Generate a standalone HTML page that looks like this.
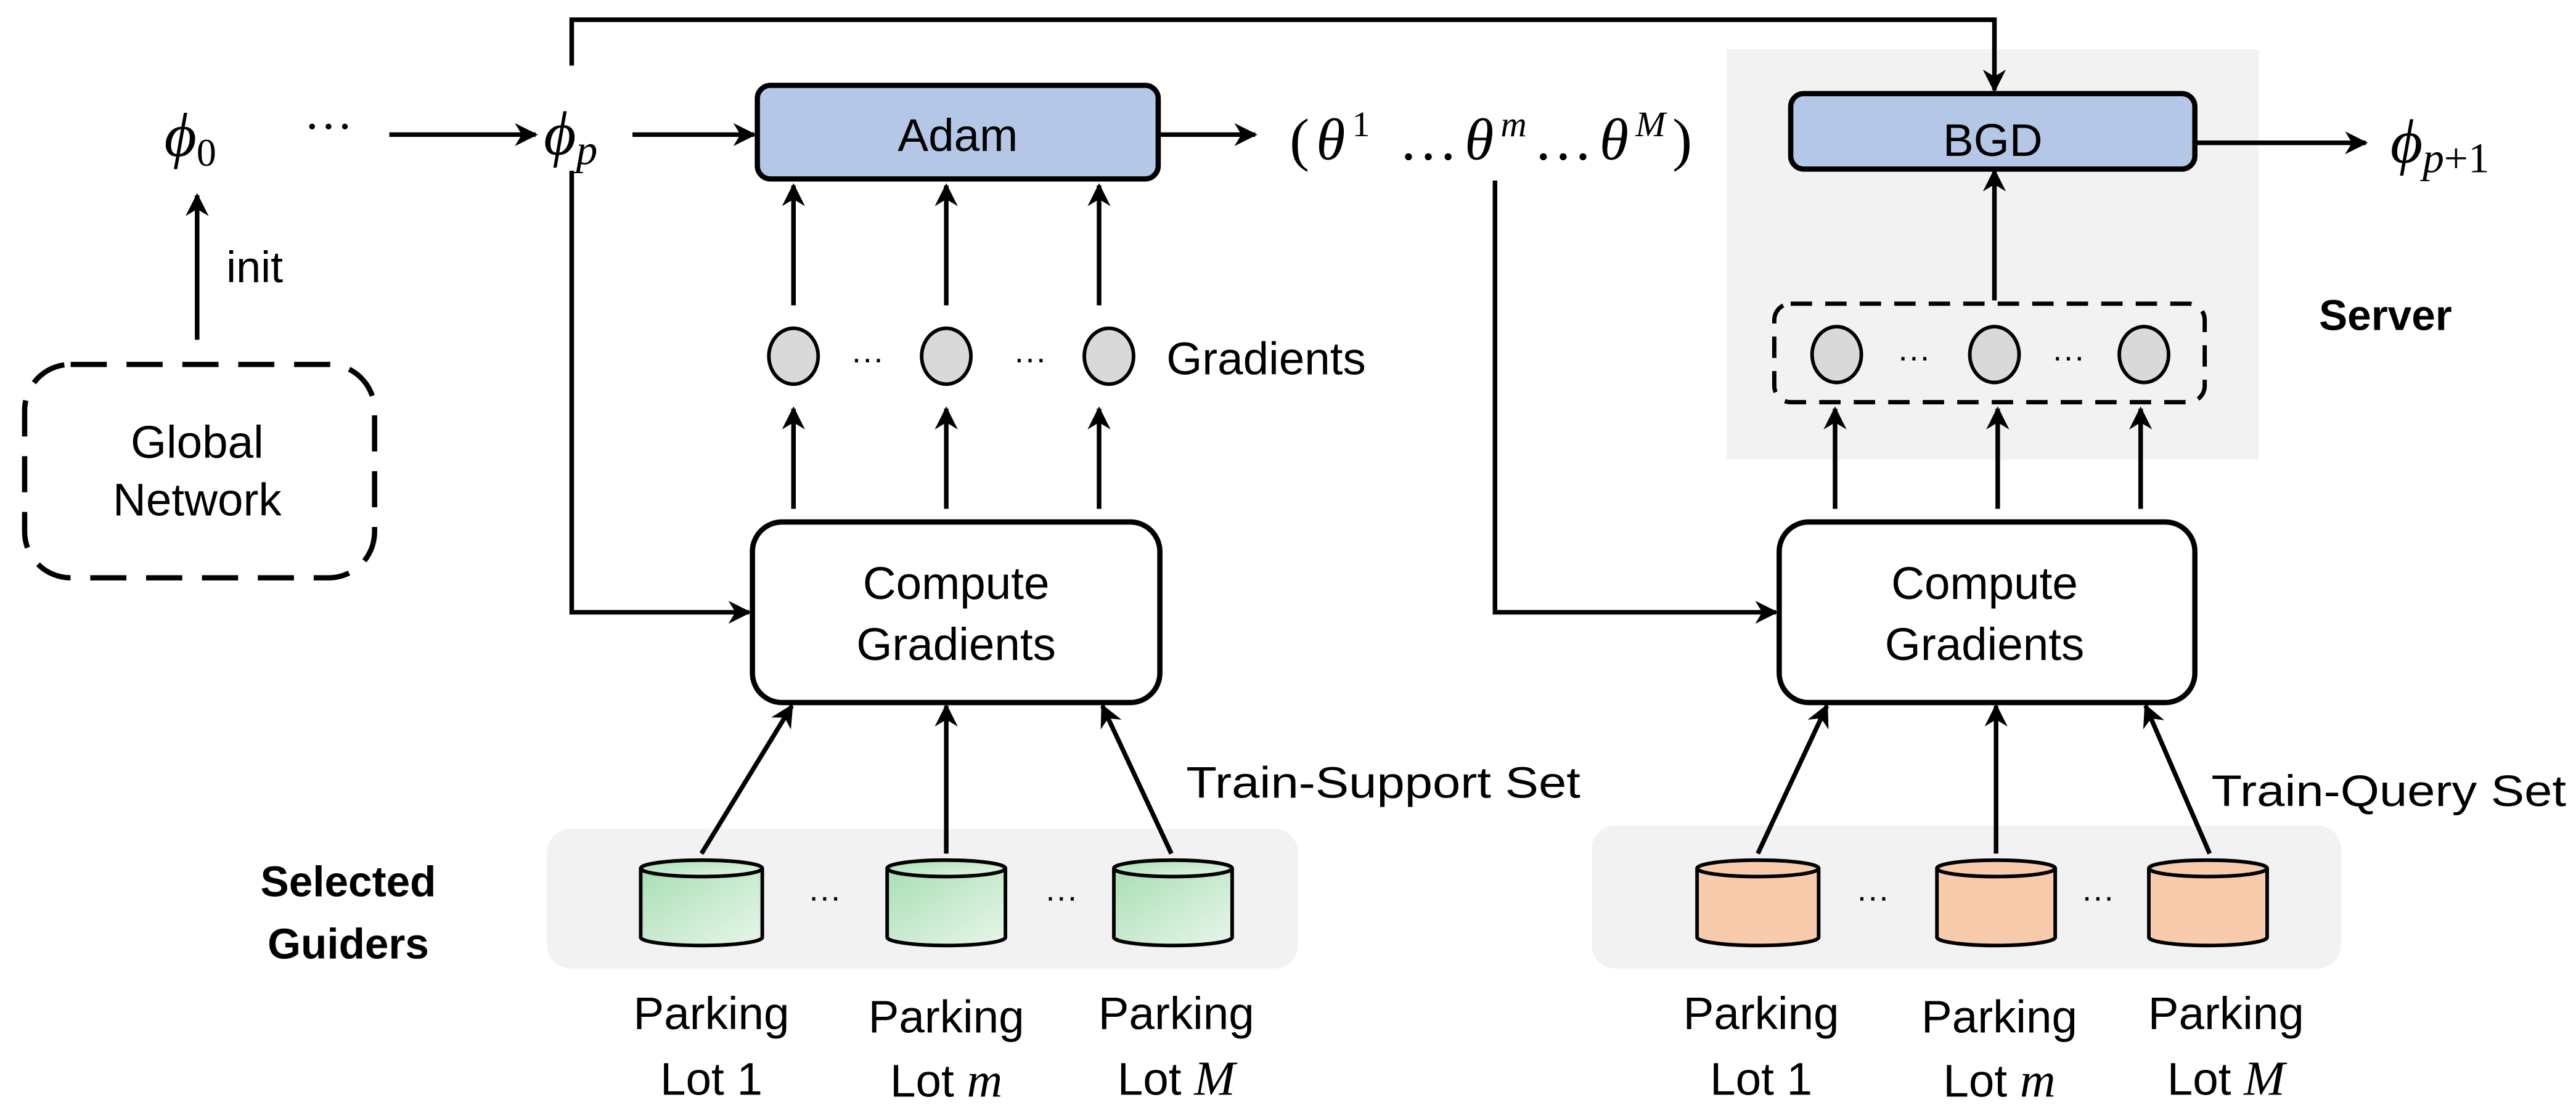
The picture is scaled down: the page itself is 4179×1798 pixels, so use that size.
<!DOCTYPE html>
<html><head><meta charset="utf-8"><style>html,body{margin:0;padding:0;background:#fff}svg{display:block}</style></head>
<body>
<svg width="4179" height="1798" viewBox="0 0 1568 675" preserveAspectRatio="none" xmlns="http://www.w3.org/2000/svg" font-family="Liberation Sans, sans-serif">
<defs>
<marker id="a" viewBox="0 0 10 10" refX="9" refY="5" markerWidth="5" markerHeight="5" orient="auto-start-reverse"><path d="M0,0 L10,5 L0,10 L3,5 z" fill="#000"/></marker>
<linearGradient id="g" x1="0" y1="0" x2="1" y2="1"><stop offset="0" stop-color="#a8dfb4"/><stop offset="1" stop-color="#e8f6ea"/></linearGradient>
</defs>
<rect x="1051" y="30" width="324" height="250" fill="#f2f2f2"/>
<rect x="333" y="505" width="457" height="85" rx="14" fill="#f2f2f2"/>
<rect x="969" y="503" width="456" height="87" rx="14" fill="#f2f2f2"/>
<g stroke="#000" stroke-width="2.8" fill="none">
<polyline points="348,40 348,12 1214,12 1214,55" marker-end="url(#a)"/>
<line x1="237" y1="82" x2="326" y2="82" marker-end="url(#a)"/>
<line x1="385" y1="82" x2="459" y2="82" marker-end="url(#a)"/>
<line x1="705" y1="82" x2="764" y2="82" marker-end="url(#a)"/>
<polyline points="348,104 348,373 456,373" marker-end="url(#a)"/>
<polyline points="910,110 910,373 1081,373" marker-end="url(#a)"/>
<line x1="1336" y1="87" x2="1440" y2="87" marker-end="url(#a)"/>
<line x1="1214" y1="183" x2="1214" y2="104" marker-end="url(#a)"/>
<line x1="120" y1="207" x2="120" y2="119" marker-end="url(#a)"/>
<line x1="483" y1="186" x2="483" y2="113" marker-end="url(#a)"/>
<line x1="576" y1="186" x2="576" y2="113" marker-end="url(#a)"/>
<line x1="669" y1="186" x2="669" y2="113" marker-end="url(#a)"/>
<line x1="483" y1="310" x2="483" y2="249" marker-end="url(#a)"/>
<line x1="576" y1="310" x2="576" y2="249" marker-end="url(#a)"/>
<line x1="669" y1="310" x2="669" y2="249" marker-end="url(#a)"/>
<line x1="1117" y1="310" x2="1117" y2="249" marker-end="url(#a)"/>
<line x1="1216" y1="310" x2="1216" y2="249" marker-end="url(#a)"/>
<line x1="1303" y1="310" x2="1303" y2="249" marker-end="url(#a)"/>
<line x1="427" y1="520" x2="482" y2="430" marker-end="url(#a)"/>
<line x1="576" y1="520" x2="576" y2="430" marker-end="url(#a)"/>
<line x1="713" y1="520" x2="671" y2="430" marker-end="url(#a)"/>
<line x1="1070" y1="520" x2="1112" y2="430" marker-end="url(#a)"/>
<line x1="1215" y1="520" x2="1215" y2="430" marker-end="url(#a)"/>
<line x1="1345" y1="520" x2="1306" y2="430" marker-end="url(#a)"/>
</g>
<rect x="461" y="52" width="244" height="57" rx="8" fill="#b4c7e7" stroke="#000" stroke-width="3.2"/>
<rect x="1090" y="57" width="246" height="46" rx="8" fill="#b4c7e7" stroke="#000" stroke-width="3.2"/>
<rect x="458" y="318" width="248" height="110" rx="18" fill="#fff" stroke="#000" stroke-width="3.2"/>
<rect x="1083" y="318" width="253" height="110" rx="18" fill="#fff" stroke="#000" stroke-width="3.2"/>
<rect x="15" y="222" width="213" height="130" rx="28" fill="none" stroke="#000" stroke-width="3.2" stroke-dasharray="22,12"/>
<rect x="1080" y="185" width="262" height="60" rx="10" fill="none" stroke="#000" stroke-width="2.6" stroke-dasharray="13,8"/>
<g fill="#d9d9d9" stroke="#000" stroke-width="2.2">
<ellipse cx="483" cy="217" rx="15" ry="17"/><ellipse cx="576" cy="217" rx="15" ry="17"/><ellipse cx="675" cy="217" rx="15" ry="17"/>
<ellipse cx="1118" cy="216" rx="15" ry="17"/><ellipse cx="1214" cy="216" rx="15" ry="17"/><ellipse cx="1305" cy="216" rx="15" ry="17"/>
</g>
<g stroke="#000" stroke-width="2.2">
<g fill="url(#g)">
<path d="M390,529 v42 a37,5 0 0 0 74,0 v-42"/><ellipse cx="427" cy="529" rx="37" ry="5"/>
<path d="M540,529 v42 a36,5 0 0 0 72,0 v-42"/><ellipse cx="576" cy="529" rx="36" ry="5"/>
<path d="M678,529 v42 a36,5 0 0 0 72,0 v-42"/><ellipse cx="714" cy="529" rx="36" ry="5"/>
</g>
<g fill="#f8cbad">
<path d="M1033,529 v42 a37,5 0 0 0 74,0 v-42"/><ellipse cx="1070" cy="529" rx="37" ry="5"/>
<path d="M1179,529 v42 a36,5 0 0 0 72,0 v-42"/><ellipse cx="1215" cy="529" rx="36" ry="5"/>
<path d="M1308,529 v42 a36,5 0 0 0 72,0 v-42"/><ellipse cx="1344" cy="529" rx="36" ry="5"/>
</g>
</g>
<g font-size="28" fill="#000" text-anchor="middle">
<text x="583" y="92">Adam</text>
<text x="1213" y="95">BGD</text>
<text x="582" y="365">Compute</text><text x="582" y="402">Gradients</text>
<text x="1208" y="365">Compute</text><text x="1208" y="402">Gradients</text>
<text x="120" y="279">Global</text><text x="120" y="314">Network</text>
<text x="155" y="172" font-size="27">init</text>
<text x="710" y="228" font-size="28" text-anchor="start">Gradients</text>
<text x="722" y="486" font-size="27" text-anchor="start" textLength="240" lengthAdjust="spacingAndGlyphs">Train-Support Set</text>
<text x="1346" y="491" font-size="27" text-anchor="start" textLength="216" lengthAdjust="spacingAndGlyphs">Train-Query Set</text>
<text x="1452" y="201" font-weight="bold" font-size="26">Server</text>
<text x="212" y="546" font-weight="bold" font-size="26">Selected</text><text x="212" y="584" font-weight="bold" font-size="26">Guiders</text>
<text x="433" y="627">Parking</text><text x="433" y="667">Lot 1</text>
<text x="576" y="629">Parking</text><text x="576" y="668">Lot <tspan font-family="Liberation Serif, serif" font-style="italic" font-size="30">m</tspan></text>
<text x="716" y="627">Parking</text><text x="716" y="667">Lot <tspan font-family="Liberation Serif, serif" font-style="italic" font-size="30">M</tspan></text>
<text x="1072" y="627">Parking</text><text x="1072" y="667">Lot 1</text>
<text x="1217" y="629">Parking</text><text x="1217" y="668">Lot <tspan font-family="Liberation Serif, serif" font-style="italic" font-size="30">m</tspan></text>
<text x="1355" y="627">Parking</text><text x="1355" y="667">Lot <tspan font-family="Liberation Serif, serif" font-style="italic" font-size="30">M</tspan></text>
<text x="528" y="225" font-size="20">···</text><text x="627" y="225" font-size="20">···</text>
<text x="1165" y="224" font-size="20">···</text><text x="1259" y="224" font-size="20">···</text>
<text x="502" y="553" font-size="20">···</text><text x="646" y="553" font-size="20">···</text>
<text x="1140" y="553" font-size="20">···</text><text x="1277" y="553" font-size="20">···</text>
</g>
<g font-family="Liberation Serif, serif" font-style="italic" font-size="38" fill="#000">
<text x="100" y="95">ϕ<tspan font-style="normal" font-size="24" dy="6">0</tspan></text>
<text x="185" y="87" font-style="normal" font-size="30">···</text>
<text x="331" y="94">ϕ<tspan font-size="26" dy="6">p</tspan></text>
<text x="785" y="97" font-size="36" textLength="245" lengthAdjust="spacing"><tspan font-style="normal">(</tspan>θ<tspan font-size="22" dy="-14" font-style="normal">1</tspan><tspan dy="14" font-style="normal"> …</tspan>θ<tspan font-size="22" dy="-14">m</tspan><tspan dy="14" font-style="normal">…</tspan>θ<tspan font-size="22" dy="-14">M</tspan><tspan dy="14" font-style="normal">)</tspan></text>
<text x="1455" y="99">ϕ<tspan font-size="26" dy="6">p</tspan><tspan font-style="normal" font-size="26">+1</tspan></text>
</g>
</svg>
</body></html>
